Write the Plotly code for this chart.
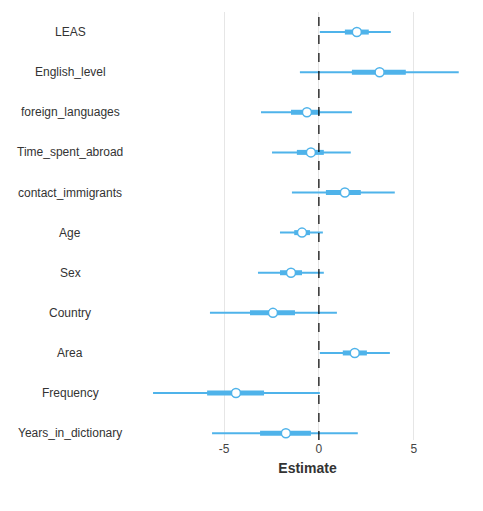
import plotly.graph_objects as go

terms = ["LEAS","English_level","foreign_languages","Time_spent_abroad","contact_immigrants",
         "Age","Sex","Country","Area","Frequency","Years_in_dictionary"]
estimate = [2.0,3.2,-0.63,-0.42,1.37,-0.89,-1.47,-2.42,1.89,-4.37,-1.74]
inner_lo = [1.37,1.74,-1.47,-1.16,0.37,-1.3,-2.05,-3.63,1.26,-5.89,-3.1]
inner_hi = [2.63,4.58,0.05,0.26,2.21,-0.47,-0.89,-1.26,2.53,-2.89,-0.42]
outer_lo = [0.05,-1.0,-3.05,-2.47,-1.42,-2.05,-3.21,-5.74,0.05,-8.74,-5.63]
outer_hi = [3.79,7.37,1.74,1.68,4.0,0.21,0.26,0.95,3.74,0.05,2.05]

col = "#4FB3EA"
fig = go.Figure()
for i, t in enumerate(terms):
    fig.add_trace(go.Scatter(x=[outer_lo[i], outer_hi[i]], y=[i, i], mode="lines",
                             line=dict(color=col, width=2), showlegend=False, hoverinfo="skip"))
    fig.add_trace(go.Scatter(x=[inner_lo[i], inner_hi[i]], y=[i, i], mode="lines",
                             line=dict(color=col, width=5), showlegend=False, hoverinfo="skip"))
fig.add_trace(go.Scatter(x=estimate, y=list(range(len(terms))), mode="markers",
                         marker=dict(size=9, color="white", line=dict(color=col, width=1.5)),
                         showlegend=False, text=terms))
fig.add_vline(x=0, line=dict(color="black", width=1.2, dash="dash"))

L, R = 142, 26
pw = 483 - L - R
for i, t in enumerate(terms):
    fig.add_annotation(x=(62 - L) / pw, xref="paper", y=i, yref="y", text=t, showarrow=False,
                       xanchor="center", font=dict(size=12, color="#333333"))

fig.update_layout(
    width=483, height=511, margin=dict(l=L, r=R, t=4, b=79),
    plot_bgcolor="white", paper_bgcolor="white",
    font=dict(family="Liberation Sans, Arial", color="#333333"),
    xaxis=dict(range=[-8.9, 7.7], tickvals=[-5, 0, 5], ticktext=["-5", "0", "5"],
               showgrid=True, gridcolor="#e6e6e6", zeroline=False,
               title=dict(text="<b>Estimate</b>", font=dict(size=14, color="#333333"), standoff=8),
               tickfont=dict(size=12, color="#444444")),
    yaxis=dict(range=[10.17, -0.5], showticklabels=False, showgrid=False, zeroline=False),
)
fig.write_html("out.html")
